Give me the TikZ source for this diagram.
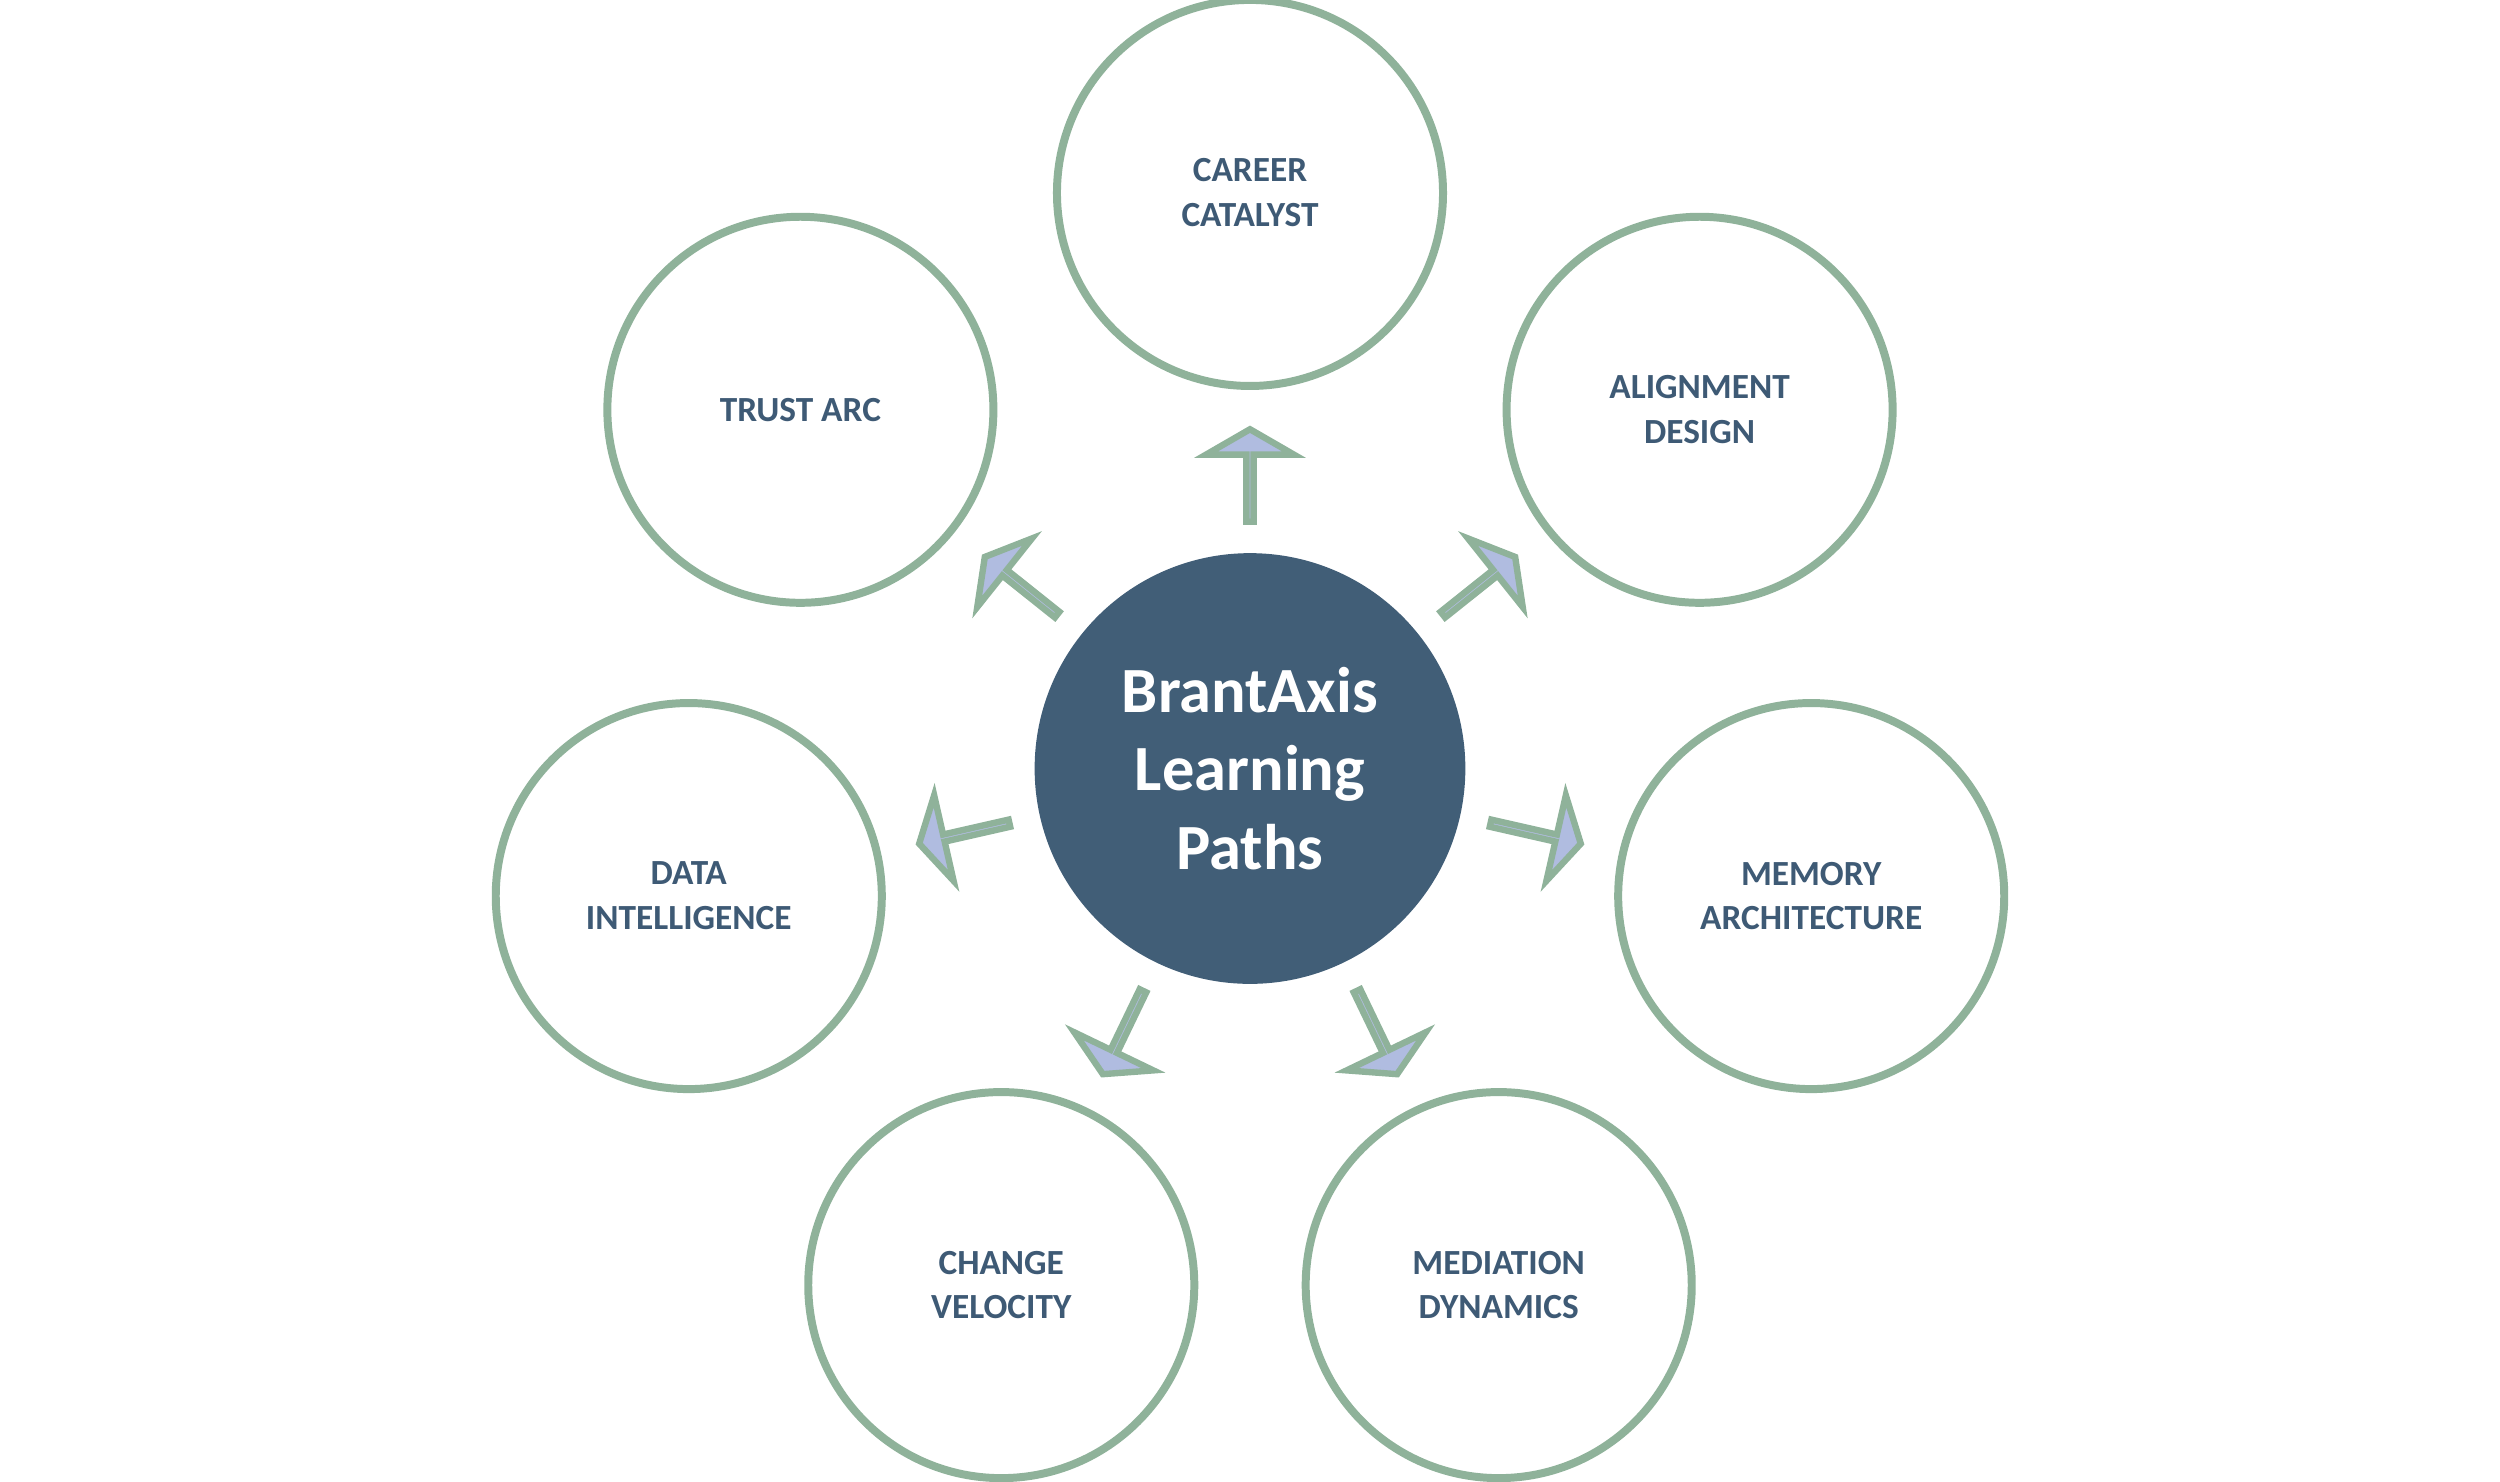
\documentclass[tikz,border=0pt]{standalone}
\usepackage{fontspec}
\setmainfont{Carlito}
\usetikzlibrary{shapes.arrows,calc}
\definecolor{ringgreen}{HTML}{8FB29A}
\definecolor{hubblue}{HTML}{415E77}
\definecolor{labelblue}{HTML}{3E5A75}
\definecolor{arrowfill}{HTML}{B0BCE0}
\tikzset{
  hub/.style={circle, fill=hubblue, minimum size=2.7cm, inner sep=0pt, align=center,
    text=white, font=\bfseries\fontsize{11.5}{14}\selectfont},
  path/.style={circle, draw=ringgreen, line width=0.05cm, fill=white, minimum size=2.42cm,
    inner sep=0pt, align=center, text=labelblue, font=\bfseries\fontsize{6.3}{8}\selectfont},
  pointer/.style={single arrow, draw=ringgreen, fill=arrowfill, line width=0.04cm,
    minimum height=0.58cm, minimum width=0.55cm, single arrow head extend=0.22cm,
    single arrow tip angle=120, inner sep=0pt}
}
\begin{document}
\begin{tikzpicture}[x=0.01cm, y=-0.01cm]
  \useasboundingbox (0,0) rectangle (1568,929);
  \node [hub] (hub) at (784,482) {BrantAxis\\Learning\\Paths};
  \node [path] (career) at (784,121) {CAREER\\CATALYST};
  \node [path] (align) at (1066,257) {ALIGNMENT\\DESIGN};
  \node [path] (memory) at (1136,562) {MEMORY\\ARCHITECTURE};
  \node [path] (mediation) at (940,806) {MEDIATION\\DYNAMICS};
  \node [path] (change) at (628,806) {CHANGE\\VELOCITY};
  \node [path] (data) at (432,562) {DATA\\INTELLIGENCE};
  \node [path] (trust) at (502,257) {TRUST ARC};
  % pointers from the hub
  \foreach \k in {career,align,memory,mediation,change,data,trust}
    \path let \p1 = ($(\k)-(hub)$), \n1 = {atan2(\y1,\x1)} in
      node [pointer, rotate=\n1] (to-\k) at ($(hub)+(\n1:1.83cm)$) {};
\end{tikzpicture}
\end{document}
